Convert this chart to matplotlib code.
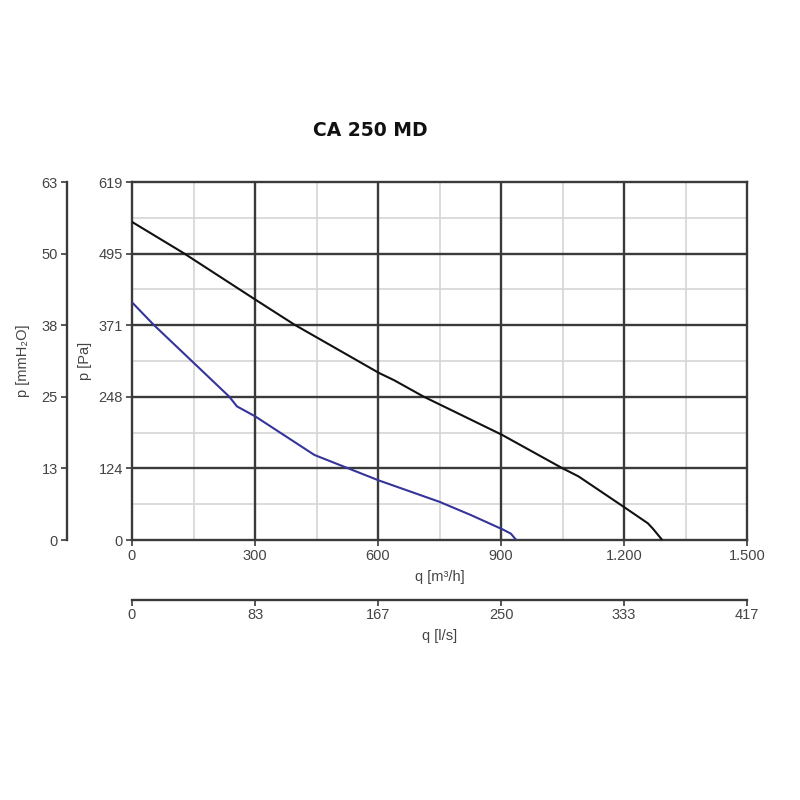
import matplotlib
matplotlib.use("Agg")
import numpy as np
import matplotlib.pyplot as plt

plt.rcParams["font.family"] = ["Liberation Sans", "DejaVu Sans"]

# ---- data ----
q_black = [0, 126, 300, 397, 602, 640, 711, 902, 1050, 1089, 1200, 1258, 1270, 1277, 1292]
p_black = [550, 496, 416, 372, 289, 276, 248, 182, 124, 110, 57, 29, 20, 14, 1]

q_blue = [0, 53, 237, 256, 300, 445, 527, 602, 750, 827, 905, 924, 936]
p_blue = [411, 372, 248, 231, 214, 147, 124, 103, 66, 43, 18, 11, 1]

pa_ticks = [0, 124, 248, 371, 495, 619]
mm_ticks = [0, 13, 25, 38, 50, 63]
q_ticks = [0, 300, 600, 900, 1200, 1500]
q_labels = ["0", "300", "600", "900", "1.200", "1.500"]
ls_ticks = ["0", "83", "167", "250", "333", "417"]

P_MAX = 619
Q_MAX = 1500
MM_MAX = 63
LS_MAX = 1500 / 3.6

TXT = "#444444"
GRID_DARK = "#3a3a3a"
GRID_LIGHT = "#d6d6d6"
FS = 10.5
PX = 72 / 100  # points per pixel at dpi 100

fig = plt.figure(figsize=(8, 8), dpi=100)
ax = fig.add_axes([132 / 800, 260 / 800, 615 / 800, 358 / 800])

ax.set_xlim(0, Q_MAX)
ax.set_ylim(0, P_MAX)

# grid: light minor lines at halves, dark major lines
for x in np.arange(150, Q_MAX, 300):
    ax.axvline(x, color=GRID_LIGHT, lw=1.2, zorder=1)
for y in np.arange(P_MAX / 10, P_MAX, P_MAX / 5):
    ax.axhline(y, color=GRID_LIGHT, lw=1.2, zorder=1)
for x in q_ticks[1:-1]:
    ax.axvline(x, color=GRID_DARK, lw=1.7, zorder=2)
for y in np.arange(1, 5) * P_MAX / 5:
    ax.axhline(y, color=GRID_DARK, lw=1.7, zorder=2)

ax.plot(q_black, p_black, color="#111111", lw=1.5, zorder=3)
ax.plot(q_blue, p_blue, color="#34349a", lw=1.5, zorder=3)

for s in ax.spines.values():
    s.set_color(GRID_DARK)
    s.set_linewidth(1.7)

ax.set_yticks(np.arange(6) * P_MAX / 5)
ax.set_yticklabels([str(v) for v in pa_ticks])
ax.set_xticks(q_ticks)
ax.set_xticklabels(q_labels)
ax.tick_params(axis="both", colors=GRID_DARK, labelcolor=TXT, labelsize=FS,
               length=4, width=1.2, pad=2.5)
ax.set_ylabel("p [Pa]", color=TXT, fontsize=FS, labelpad=5)
ax.set_xlabel("q [m³/h]", color=TXT, fontsize=FS, labelpad=5)

# ---- mmH2O axis on the far left ----
ax_mm = ax.twinx()
ax_mm.set_ylim(0, MM_MAX)
ax_mm.yaxis.set_ticks_position("left")
ax_mm.yaxis.set_label_position("left")
for k in ("top", "right", "bottom"):
    ax_mm.spines[k].set_visible(False)
ax_mm.spines["left"].set_position(("outward", 65 * PX))
ax_mm.spines["left"].set_color(GRID_DARK)
ax_mm.spines["left"].set_linewidth(1.7)
ax_mm.set_yticks(np.arange(6) * MM_MAX / 5)
ax_mm.set_yticklabels([str(v) for v in mm_ticks])
ax_mm.tick_params(axis="y", colors=GRID_DARK, labelcolor=TXT, labelsize=FS,
                  length=4, width=1.2, pad=2.5)
ax_mm.set_ylabel("p [mmH₂O]", color=TXT, fontsize=FS, labelpad=8)

# ---- l/s axis below ----
ax_ls = ax.twiny()
ax_ls.set_xlim(0, LS_MAX)
ax_ls.xaxis.set_ticks_position("bottom")
ax_ls.xaxis.set_label_position("bottom")
for k in ("top", "right", "left"):
    ax_ls.spines[k].set_visible(False)
ax_ls.spines["bottom"].set_position(("outward", 60 * PX))
ax_ls.spines["bottom"].set_color(GRID_DARK)
ax_ls.spines["bottom"].set_linewidth(1.7)
ax_ls.set_xticks(np.arange(6) * LS_MAX / 5)
ax_ls.set_xticklabels(ls_ticks)
ax_ls.tick_params(axis="x", colors=GRID_DARK, labelcolor=TXT, labelsize=FS,
                  length=4, width=1.2, pad=2)
ax_ls.set_xlabel("q [l/s]", color=TXT, fontsize=FS, labelpad=5)

fig.text(370 / 800, 1 - 131 / 800, "CA 250 MD", ha="center", va="center",
         fontsize=13.5, fontweight="bold", family=["DejaVu Sans"],
         color="#111111")

fig.savefig("out.png", dpi=100)
